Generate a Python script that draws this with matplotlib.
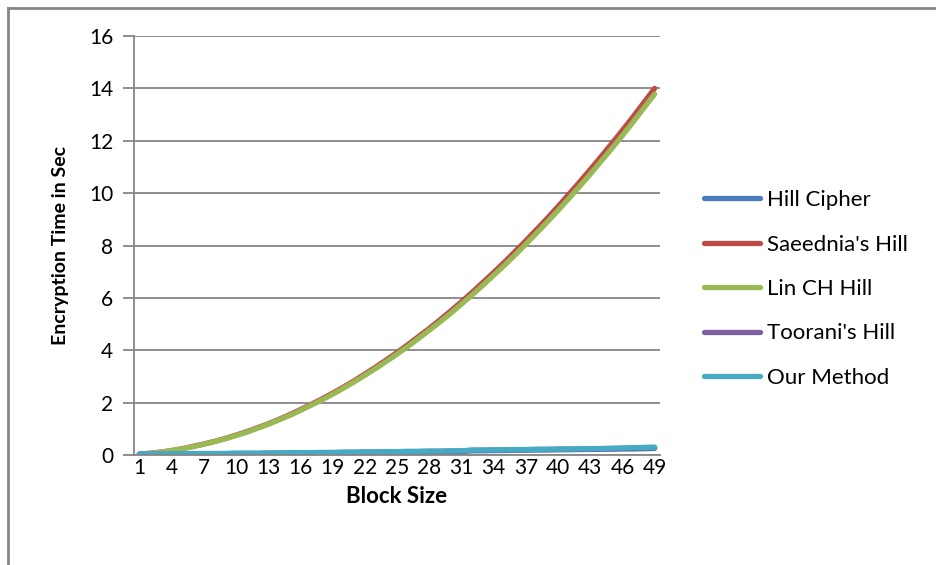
import matplotlib.pyplot as plt
from matplotlib.lines import Line2D

plt.rcParams['font.family'] = ['Lato', 'DejaVu Sans']

# Encryption time (seconds) per block size
block_size = list(range(1, 50))
hill_cipher = [0.02, 0.02, 0.02, 0.03, 0.03, 0.03, 0.03, 0.04, 0.04, 0.04,
               0.05, 0.05, 0.05, 0.06, 0.06, 0.06, 0.07, 0.07, 0.07, 0.08,
               0.08, 0.09, 0.09, 0.10, 0.10, 0.11, 0.11, 0.12, 0.12, 0.13,
               0.13, 0.16, 0.16, 0.17, 0.17, 0.18, 0.18, 0.19, 0.19, 0.20,
               0.20, 0.21, 0.21, 0.22, 0.22, 0.23, 0.23, 0.24, 0.25]
saeednia = [0.03, 0.07, 0.11, 0.17, 0.24, 0.33, 0.42, 0.52, 0.63, 0.76,
            0.89, 1.04, 1.19, 1.36, 1.54, 1.73, 1.93, 2.14, 2.36, 2.59,
            2.83, 3.09, 3.35, 3.63, 3.91, 4.21, 4.52, 4.83, 5.16, 5.50,
            5.85, 6.21, 6.59, 6.97, 7.36, 7.77, 8.18, 8.61, 9.04, 9.49,
            9.95, 10.42, 10.90, 11.39, 11.89, 12.40, 12.92, 13.46, 14.00]
lin_ch = [0.02, 0.06, 0.11, 0.17, 0.23, 0.32, 0.41, 0.51, 0.62, 0.74,
          0.87, 1.02, 1.17, 1.34, 1.51, 1.70, 1.90, 2.10, 2.32, 2.55,
          2.79, 3.04, 3.30, 3.57, 3.85, 4.14, 4.45, 4.76, 5.08, 5.41,
          5.76, 6.11, 6.48, 6.86, 7.24, 7.64, 8.05, 8.47, 8.90, 9.34,
          9.79, 10.25, 10.72, 11.21, 11.70, 12.20, 12.72, 13.25, 13.78]
toorani = [0.03, 0.03, 0.03, 0.04, 0.04, 0.04, 0.05, 0.05, 0.05, 0.06,
           0.06, 0.06, 0.07, 0.07, 0.08, 0.08, 0.08, 0.09, 0.09, 0.10,
           0.10, 0.11, 0.11, 0.12, 0.12, 0.13, 0.13, 0.14, 0.14, 0.15,
           0.15, 0.18, 0.18, 0.19, 0.19, 0.20, 0.20, 0.21, 0.21, 0.22,
           0.22, 0.23, 0.23, 0.24, 0.24, 0.25, 0.26, 0.27, 0.28]
our_method = [0.04, 0.04, 0.04, 0.05, 0.05, 0.05, 0.06, 0.06, 0.06, 0.07,
              0.07, 0.07, 0.08, 0.08, 0.09, 0.09, 0.09, 0.10, 0.10, 0.11,
              0.11, 0.12, 0.12, 0.13, 0.13, 0.14, 0.14, 0.15, 0.15, 0.16,
              0.16, 0.19, 0.19, 0.20, 0.20, 0.21, 0.21, 0.22, 0.22, 0.23,
              0.23, 0.24, 0.24, 0.25, 0.26, 0.27, 0.28, 0.29, 0.30]

series = [
    ("Hill Cipher", hill_cipher, "#4A7EBB"),
    ("Saeednia's Hill", saeednia, "#BE4B48"),
    ("Lin CH Hill", lin_ch, "#98B954"),
    ("Toorani's Hill", toorani, "#7D60A0"),
    ("Our Method", our_method, "#46AAC5"),
]

grid_color = "#868686"

fig = plt.figure(figsize=(9.37, 5.65), dpi=100)
ax = fig.add_axes([134 / 937, 1 - 455 / 565, 526 / 937, 419 / 565])

for label, values, color in series:
    ax.plot(block_size, values, color=color, lw=3.8, label=label,
            solid_capstyle="round")

ax.set_xlim(0.5, 49.5)
ax.set_ylim(0, 16)
ax.set_yticks(range(0, 17, 2))
ax.set_xticks(block_size[::3])
ax.grid(axis="y", color=grid_color, lw=1.3)
ax.set_axisbelow(True)

for side in ("top", "right"):
    ax.spines[side].set_visible(False)
for side in ("left", "bottom"):
    ax.spines[side].set_color(grid_color)
    ax.spines[side].set_linewidth(1.3)

ax.tick_params(axis="y", length=8, width=1.3, color=grid_color,
               labelsize=15, pad=7)
ax.tick_params(axis="x", length=0, labelsize=15, pad=2)

ax.set_xlabel("Block Size", fontsize=16, fontweight="bold", labelpad=6)
ax.set_ylabel("Encryption Time in Sec", fontsize=14, fontweight="bold",
              labelpad=14)

fig.legend(loc="center left", bbox_to_anchor=(684 / 937, 1 - 289 / 565),
           frameon=False, fontsize=16, handlelength=2.5, handletextpad=0.35,
           labelspacing=1.1)

# outer chart frame (top and left edges only)
fig.add_artist(Line2D([8 / 937, 1], [1 - 8 / 565, 1 - 8 / 565],
                      transform=fig.transFigure, color=grid_color, lw=2))
fig.add_artist(Line2D([8 / 937, 8 / 937], [1 - 8 / 565, 0],
                      transform=fig.transFigure, color=grid_color, lw=2))

fig.savefig("out.png", dpi=100)
plt.close(fig)
